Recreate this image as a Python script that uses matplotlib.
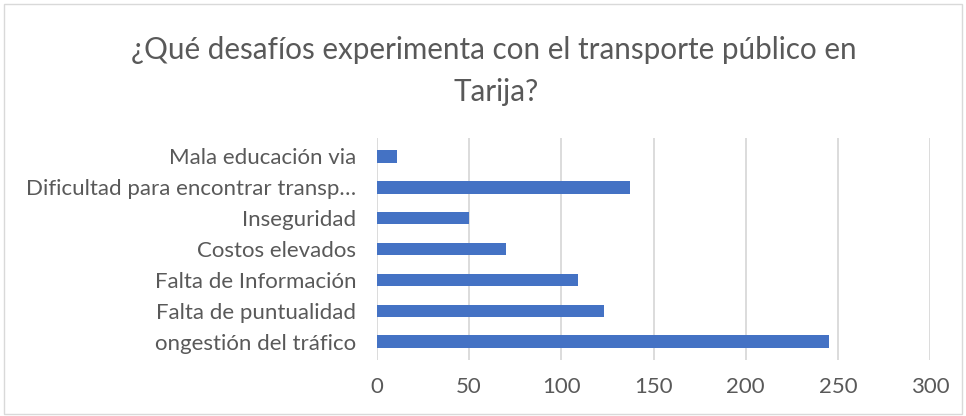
import matplotlib
matplotlib.use("Agg")
import matplotlib.pyplot as plt
from matplotlib.patches import Rectangle

categories = ["ongestión del tráfico", "Falta de puntualidad", "Falta de Información",
              "Costos elevados", "Inseguridad", "Dificultad para encontrar transp…",
              "Mala educación via"]
values = [245, 123, 109, 70, 50, 137, 11]
xticks = [0, 50, 100, 150, 200, 250, 300]

plt.rcParams['font.family'] = ['Lato', 'DejaVu Sans']
fig = plt.figure(figsize=(9.66, 4.16), dpi=100)
ax = fig.add_axes([377/966, 1 - 360/416, (930-377)/966, (360-138)/416])

ax.barh(range(len(categories)), values, height=0.4, color="#4472C4", zorder=3)
ax.set_xlim(0, 300)
ax.set_ylim(-0.6, len(categories) - 0.4)
ax.set_xticks(xticks)
ax.set_yticks(range(len(categories)))
ax.set_yticklabels(categories)
ax.tick_params(axis='both', length=0, labelsize=16, colors="#595959")
ax.tick_params(axis='x', pad=12)
ax.tick_params(axis='y', pad=15)
ax.grid(axis='x', color="#d9d9d9", linewidth=1.3, zorder=0)
for s in ax.spines.values():
    s.set_visible(False)

fig.text(494/966, 1 - 50/416, "¿Qué desafíos experimenta con el transporte público en",
         ha='center', va='center', fontsize=21.3, color="#595959")
fig.text(496/966, 1 - 92/416, "Tarija?", ha='center', va='center', fontsize=21.3, color="#595959")

fig.patches.append(Rectangle((4/966, 2/416), 958/966, 410/416, transform=fig.transFigure,
                             fill=False, edgecolor="#d9d9d9", linewidth=1))
fig.savefig("out.png", dpi=100)
